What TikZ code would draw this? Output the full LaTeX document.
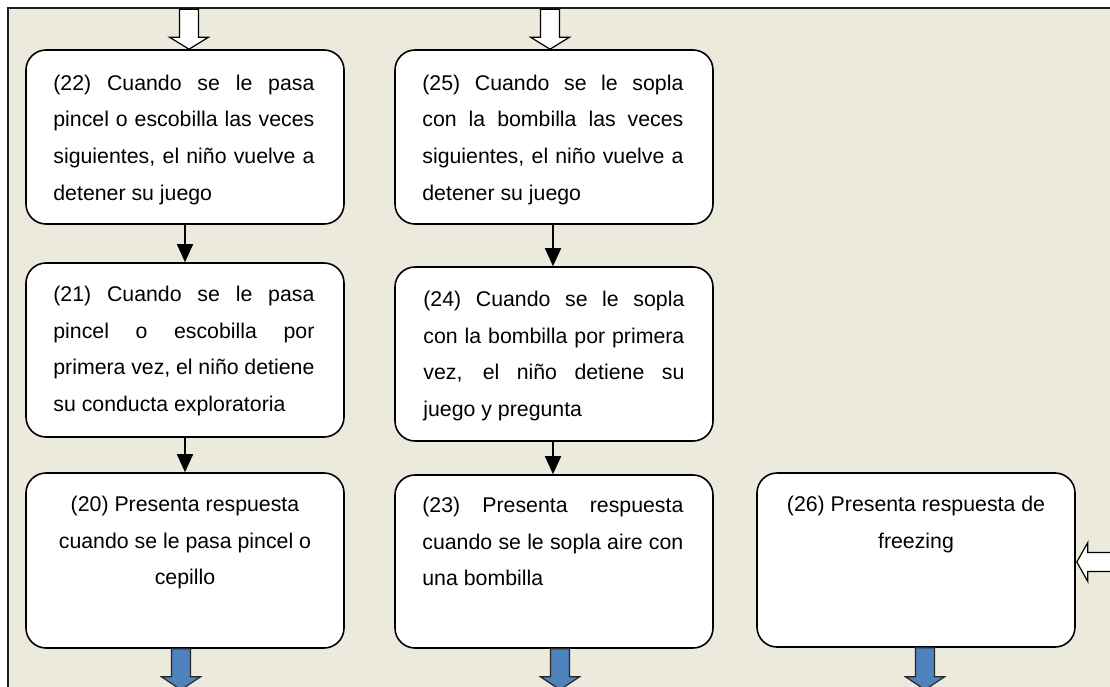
\documentclass[tikz,border=0pt]{standalone}
\usepackage{fontspec}
\setmainfont{Liberation Sans}
\usetikzlibrary{arrows.meta,calc}
\definecolor{bgbeige}{HTML}{ECE9DD}
\definecolor{arrowblue}{HTML}{4F81BD}
\definecolor{framegray}{HTML}{1E1E1E}
\newcommand\jline[1]{\makebox[261pt][s]{#1}\\}
\newcommand\boxtext[1]{\parbox[t]{261pt}{\fontsize{21.3}{36.8}\selectfont #1\par}}
\newcommand\cboxtext[1]{\parbox[t]{261pt}{\fontsize{21.3}{36.8}\selectfont\centering #1\par}}
% #1 tip, #2 total length, #3 head length, #4 style
\newcommand\blockdown[4]{\draw[#4] (#1) -- ++(-19.5,-#3) -- ++(10,0) -- ++(0,-#2+#3) -- ++(19,0) -- ++(0,#2-#3) -- ++(10,0) -- cycle;}
\newcommand\blockleft[4]{\draw[#4] (#1) -- ++(#3,-19.5) -- ++(0,10) -- ++(#2-#3,0) -- ++(0,19) -- ++(-#2+#3,0) -- ++(0,10) -- cycle;}
\tikzset{
  boxst/.style={draw=black, line width=1.6pt, fill=white, rounded corners=20pt,
    minimum width=318pt, minimum height=174pt, inner sep=0pt},
  txt/.style={inner sep=0pt, anchor=base west},
  ctxt/.style={inner sep=0pt, anchor=base},
  conn/.style={draw=black, line width=1.6pt, -{Triangle[length=18pt,width=16pt]}},
  hollow/.style={draw=black, line width=1.2pt, fill=white, line join=miter},
  bluearr/.style={draw=black!85, line width=1.2pt, fill=arrowblue, line join=miter},
  framest/.style={draw=framegray, line width=2.6pt}
}
\begin{document}
\begin{tikzpicture}[x=1pt,y=-1pt]
\useasboundingbox (0,0) rectangle (1110,687);
\clip (0,0) rectangle (1110,687);
\fill[white] (0,0) rectangle (1110,687);
\fill[bgbeige] (8,8) rectangle (1130,710);
\draw[framest] (8,710) -- (8,8) -- (1130,8);

% boxes
\node[boxst] (b22) at (185,137) {};
\node[boxst] (b21) at (185,350) {};
\node[boxst, minimum height=175pt] (b20) at (185,560.5) {};
\node[boxst] (b25) at (554,137) {};
\node[boxst] (b24) at (554,354) {};
\node[boxst, minimum height=173pt] (b23) at (554,561.5) {};
\node[boxst] (b26) at (916,560) {};

% texts
\node[txt] (t22) at ($(b22.north west)+(28,41)$) {\boxtext{\jline{(22) Cuando se le pasa}\jline{pincel o escobilla las veces}\jline{siguientes, el niño vuelve a}detener su juego}};
\node[txt] (t21) at ($(b21.north west)+(28,39)$) {\boxtext{\jline{(21) Cuando se le pasa}\jline{pincel o escobilla por}\jline{primera vez, el niño detiene}su conducta exploratoria}};
\node[ctxt] (t20) at ($(b20.north)+(0,39)$) {\cboxtext{(20) Presenta respuesta\\cuando se le pasa pincel o\\cepillo}};
\node[txt] (t25) at ($(b25.north west)+(28,41)$) {\boxtext{\jline{(25) Cuando se le sopla}\jline{con la bombilla las veces}\jline{siguientes, el niño vuelve a}detener su juego}};
\node[txt] (t24) at ($(b24.north west)+(29,40)$) {\boxtext{\jline{(24) Cuando se le sopla}\jline{con la bombilla por primera}\jline{vez, el niño detiene su}juego y pregunta}};
\node[txt] (t23) at ($(b23.north west)+(28,38)$) {\boxtext{\jline{(23) Presenta respuesta}\jline{cuando se le sopla aire con}una bombilla}};
\node[ctxt] (t26) at ($(b26.north)+(0,39)$) {\cboxtext{(26) Presenta respuesta de\\freezing}};

% connectors
\draw[conn] (b22.south) -- (b21.north);
\draw[conn] (b21.south) -- (b20.north);
\draw[conn] ($(b25.south)+(-1,0)$) -- ($(b24.north)+(-1,0)$);
\draw[conn] ($(b24.south)+(-1,0)$) -- ($(b23.north)+(-1,0)$);

% incoming hollow block arrows
\coordinate (in22) at ($(b22.north)+(4,0)$);
\coordinate (in25) at ($(b25.north)+(-4,0)$);
\coordinate (in26) at ($(b26.east)+(1,2)$);
\blockdown{in22}{40}{12}{hollow}
\blockdown{in25}{40}{12}{hollow}
\blockleft{in26}{45}{11}{hollow}

% outgoing blue block arrows
\coordinate (out20) at ($(b20.south)+(-4,41)$);
\coordinate (out23) at ($(b23.south)+(6,41)$);
\coordinate (out26) at ($(b26.south)+(9,42)$);
\blockdown{out20}{41}{13}{bluearr}
\blockdown{out23}{41}{13}{bluearr}
\blockdown{out26}{42}{13}{bluearr}
\end{tikzpicture}
\end{document}
